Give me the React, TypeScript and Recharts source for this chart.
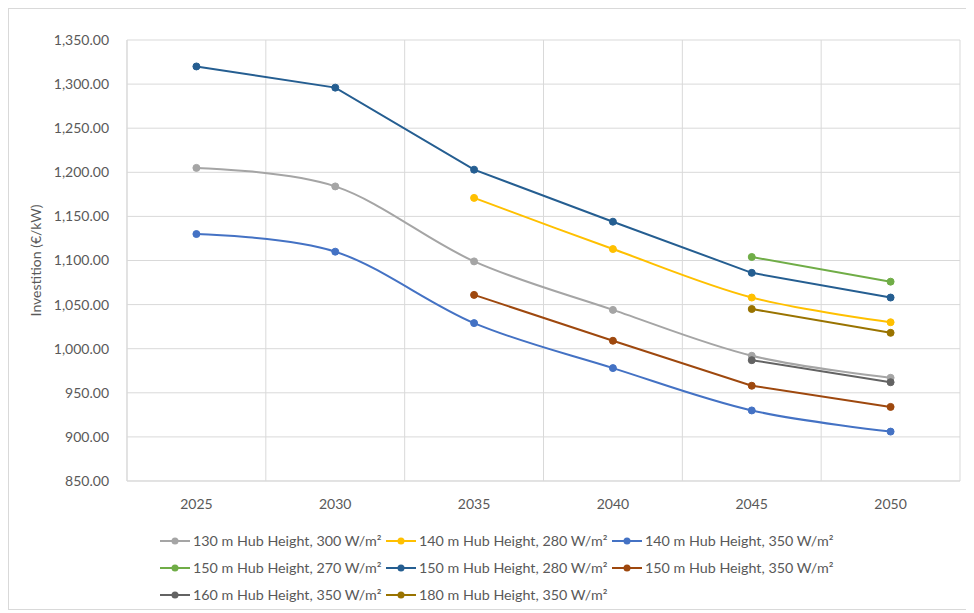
import React from 'react';
import {
  LineChart,
  Line,
  XAxis,
  YAxis,
  CartesianGrid,
  Legend
} from 'recharts';

// categories and y ticks
const years = ['2025', '2030', '2035', '2040', '2045', '2050'];
const yTicks = [850, 900, 950, 1000, 1050, 1100, 1150, 1200, 1250, 1300, 1350];

// series values (€/kW), null where the series has no value
const h130w300 = [1205, 1184, 1099, 1044, 992, 967];
const h140w280 = [null, null, 1171, 1113, 1058, 1030];
const h140w350 = [1130, 1110, 1029, 978, 930, 906];
const h150w270 = [null, null, null, null, 1104, 1076];
const h150w280 = [1320, 1296, 1203, 1144, 1086, 1058];
const h150w350 = [null, null, 1061, 1009, 958, 934];
const h160w350 = [null, null, null, null, 987, 962];
const h180w350 = [null, null, null, null, 1045, 1018];

// smooth: the series drawn as smoothed lines in the original
const series = [
  { key: 's1', name: '130 m Hub Height, 300 W/m²', color: '#A5A5A5', values: h130w300, smooth: true },
  { key: 's2', name: '140 m Hub Height, 280 W/m²', color: '#FFC000', values: h140w280, smooth: true },
  { key: 's3', name: '140 m Hub Height, 350 W/m²', color: '#4472C4', values: h140w350, smooth: true },
  { key: 's4', name: '150 m Hub Height, 270 W/m²', color: '#70AD47', values: h150w270, smooth: false },
  { key: 's5', name: '150 m Hub Height, 280 W/m²', color: '#255E91', values: h150w280, smooth: false },
  { key: 's6', name: '150 m Hub Height, 350 W/m²', color: '#9E480E', values: h150w350, smooth: false },
  { key: 's7', name: '160 m Hub Height, 350 W/m²', color: '#636363', values: h160w350, smooth: false },
  { key: 's8', name: '180 m Hub Height, 350 W/m²', color: '#997300', values: h180w350, smooth: false }
];

const data = years.map((year, i) => {
  const row: Record<string, any> = { year };
  series.forEach(s => { row[s.key] = s.values[i]; });
  return row;
});

const FONT = 'Lato, "Open Sans", sans-serif';
const TEXT = '#595959';
const GRID = '#D9D9D9';

// Excel-like smoothing: cardinal spline with tension 0 (Catmull-Rom, uniform)
const excelSmooth = (context: any) => {
  const k = 1 / 6;
  let x0 = NaN, x1 = NaN, x2 = NaN, y0 = NaN, y1 = NaN, y2 = NaN;
  let n = 0;
  const seg = (x: number, y: number) => {
    context.bezierCurveTo(
      x1 + k * (x2 - x0), y1 + k * (y2 - y0),
      x2 + k * (x1 - x), y2 + k * (y1 - y),
      x2, y2
    );
  };
  return {
    areaStart() {},
    areaEnd() {},
    lineStart() {
      x0 = x1 = x2 = y0 = y1 = y2 = NaN;
      n = 0;
    },
    lineEnd() {
      if (n === 2) context.lineTo(x2, y2);
      else if (n === 3) seg(x1, y1);
    },
    point(x: number, y: number) {
      x = +x; y = +y;
      if (n === 0) { n = 1; context.moveTo(x, y); }
      else if (n === 1) { n = 2; x1 = x; y1 = y; }
      else { if (n === 2) n = 3; seg(x, y); }
      x0 = x1; x1 = x2; x2 = x;
      y0 = y1; y1 = y2; y2 = y;
    }
  };
};

const ExcelLegend = () => (
  <div
    style={{
      display: 'grid',
      gridTemplateColumns: 'repeat(3, 226px)',
      gridAutoRows: '27px',
      height: 81,
      fontFamily: FONT,
      fontSize: 14.3,
      color: TEXT
    }}
  >
    {series.map(s => (
      <div key={s.key} style={{ display: 'flex', alignItems: 'center', whiteSpace: 'nowrap' }}>
        <svg width={32} height={10} style={{ marginRight: 1 }}>
          <line x1={0} y1={5} x2={30} y2={5} stroke={s.color} strokeWidth={2} />
          <circle cx={15} cy={5} r={3.5} fill={s.color} />
        </svg>
        <span>{s.name}</span>
      </div>
    ))}
  </div>
);

export default function App() {
  // vertical gridlines sit between the categories, like Excel's
  const verticalLines = ({ offset }: any) =>
    years.map((_, i) => offset.left + (offset.width * i) / years.length)
      .concat([offset.left + offset.width]);

  return (
    <div style={{ width: 958, height: 600, border: `1px solid ${GRID}`, background: '#fff' }}>
      <LineChart
        width={958}
        height={600}
        data={data}
        margin={{ top: 31, right: 7, bottom: 17, left: 0 }}
      >
        <CartesianGrid
          stroke={GRID}
          strokeWidth={1}
          verticalCoordinatesGenerator={verticalLines}
        />
        <XAxis
          dataKey="year"
          scale="band"
          tickLine={false}
          axisLine={{ stroke: GRID }}
          tick={{ fill: TEXT, fontSize: 14, fontFamily: FONT }}
          tickMargin={12}
          height={30}
        />
        <YAxis
          domain={[850, 1350]}
          ticks={yTicks}
          width={118}
          tickLine={false}
          axisLine={{ stroke: GRID }}
          tick={{ fill: TEXT, fontSize: 14, fontFamily: FONT }}
          tickMargin={12}
          tickFormatter={(v: number) =>
            v.toLocaleString('en-US', { minimumFractionDigits: 2, maximumFractionDigits: 2 })
          }
          label={{
            value: 'Investition (€/kW)',
            angle: -90,
            position: 'center',
            dx: -32,
            style: { fill: TEXT, fontSize: 14, fontFamily: FONT }
          }}
        />
        <Legend
          content={<ExcelLegend />}
          wrapperStyle={{ top: 518, left: 151, width: 680, bottom: 'auto' }}
        />
        {series.map(s => (
          <Line
            key={s.key}
            type={s.smooth ? (excelSmooth as any) : 'linear'}
            dataKey={s.key}
            name={s.name}
            stroke={s.color}
            strokeWidth={2}
            dot={{ r: 3.5, fill: s.color, stroke: s.color, strokeWidth: 1 }}
            activeDot={false}
            isAnimationActive={false}
          />
        ))}
      </LineChart>
    </div>
  );
}
